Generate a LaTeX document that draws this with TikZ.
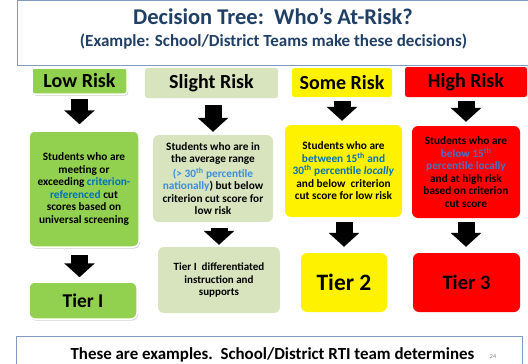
\documentclass[tikz,border=0pt]{standalone}
\usepackage{fontspec}
\setmainfont{Carlito}
\usetikzlibrary{arrows.meta,shadows}
\definecolor{titleblue}{HTML}{1F3F66}
\definecolor{frameblue}{HTML}{7F9CC0}
\definecolor{lowgreen}{HTML}{92D050}
\definecolor{slightgreen}{HTML}{D7E4BD}
\definecolor{cutblue}{HTML}{0070C0}
\definecolor{lightcut}{HTML}{3A8EE0}
\definecolor{redcut}{HTML}{4472C4}
\newcommand{\txt}[2]{\fontsize{#1}{#2}\selectfont\bfseries}

\begin{document}
\begin{tikzpicture}
  [x=1pt, y=-1pt,
   every node/.style={inner sep=0pt, align=center},
   riskhd/.style={rounded corners=2.5pt, font=\txt{20}{24}},
   riskbox/.style={rounded corners=6pt, font=\txt{11.3}{12.5}},
   tierbox/.style={rounded corners=6pt},
   lowstyle/.style={fill=lowgreen, draw=white, line width=1.5pt,
     drop shadow={shadow xshift=1pt, shadow yshift=-1.5pt, opacity=0.35}},
   blockarrow/.style={line width=17pt, -{Triangle[width=30pt,length=14pt]}}]
  \useasboundingbox (0,0) rectangle (528,364);
  % title panel
  \draw[frameblue, line width=0.8pt] (17,0.5) rectangle (540,65);
  \node[anchor=base] (title) at (273,24) {\txt{22.5}{26}\color{titleblue}Decision Tree:\ \ Who’s At-Risk?};
  \node[anchor=base] (subtitle) at (273.5,46) {\txt{17}{20}\color{titleblue}(Example: School/District Teams make these decisions)};
  % risk headings
  \node[riskhd, lowstyle, minimum width=95pt, minimum height=26pt] (lowhd) at (79.5,81) {Low Risk};
  \node[riskhd, fill=slightgreen, minimum width=133pt, minimum height=30pt] (slighthd) at (211.5,83) {Slight Risk};
  \node[riskhd, fill=yellow, minimum width=100pt, minimum height=29pt] (somehd) at (342,82.5) {Some Risk};
  \node[riskhd, fill=red, minimum width=122pt, minimum height=30pt] (highhd) at (466,82) {High Risk};
  % criteria
  \node[riskbox, lowstyle, minimum width=110pt, minimum height=116pt] (lowbox) at (84,189)
    {Students who are\\meeting or\\exceeding \textcolor{cutblue}{criterion-}\\\textcolor{cutblue}{referenced} cut\\scores based on\\universal screening};
  \node[riskbox, fill=slightgreen, minimum width=120pt, minimum height=87pt] (slightbox) at (213,178.5)
    {Students who are in\\the average range\\[2pt]\textcolor{lightcut}{(> 30\textsuperscript{th} percentile}\\\textcolor{lightcut}{nationally}) but below\\criterion cut score for\\low risk};
  \node[riskbox, fill=yellow, minimum width=117pt, minimum height=92pt] (somebox) at (343.5,171)
    {Students who are\\\textcolor{cutblue}{between 15\textsuperscript{th} and}\\\textcolor{cutblue}{30\textsuperscript{th} percentile \textit{locally}}\\and below\ \ criterion\\cut score for low risk};
  \node[riskbox, fill=red, minimum width=108pt, minimum height=92pt] (highbox) at (466,172)
    {Students who are\\\textcolor{redcut}{below 15\textsuperscript{th}}\\\textcolor{redcut}{percentile locally}\\and at high risk\\based on criterion\\cut score};
  % tiers
  \node[tierbox, lowstyle, font=\txt{19.5}{24}, minimum width=108pt, minimum height=37pt] (tierone) at (83,300.5) {Tier I};
  \node[riskbox, font=\txt{11}{12.5}, fill=slightgreen, minimum width=122pt, minimum height=66pt] (slighttier) at (219,280)
    {Tier I\ \ differentiated\\instruction and\\supports};
  \node[tierbox, fill=yellow, font=\txt{23.5}{28}, minimum width=86pt, minimum height=59pt] (tiertwo) at (344,282.5) {Tier 2};
  \node[tierbox, fill=red, font=\txt{20.5}{24}, minimum width=107pt, minimum height=59pt] (tierthree) at (466.5,282.5) {Tier 3};
  % arrows
  \draw[blockarrow, shorten <=4pt, shorten >=6pt] (lowhd.south) -- (lowhd.south |- lowbox.north);
  \draw[blockarrow, shorten <=7pt, shorten >=3pt] (slightbox.north |- slighthd.south) -- (slightbox.north);
  \draw[blockarrow, shorten <=4pt, shorten >=4pt] (somehd.south) -- (somehd.south |- somebox.north);
  \draw[blockarrow, shorten <=4pt, shorten >=4pt] (highhd.south) -- (highhd.south |- highbox.north);
  \draw[blockarrow, shorten <=7pt, shorten >=4pt] (lowhd |- lowbox.south) -- (lowhd |- tierone.north);
  \draw[blockarrow, shorten <=6pt, shorten >=2pt] (slighttier.north |- slightbox.south) -- (slighttier.north);
  \draw[blockarrow, shorten <=5pt, shorten >=6pt] (tiertwo.north |- somebox.south) -- (tiertwo.north);
  \draw[blockarrow, shorten <=4pt, shorten >=6pt] (highhd |- highbox.south) -- (highhd |- tierthree.north);
  % footer panel
  \draw[frameblue, line width=0.8pt] (16,380) -- (16,336) -- (522,336) -- (522,380);
  \node[anchor=base] (footer) at (272.5,359) {\txt{16.9}{20}These are examples.\ \ School/District RTI team determines};
  \node[anchor=base] (pagenum) at (493,358) {\fontsize{6}{7}\selectfont\color{gray}24};
\end{tikzpicture}
\end{document}
